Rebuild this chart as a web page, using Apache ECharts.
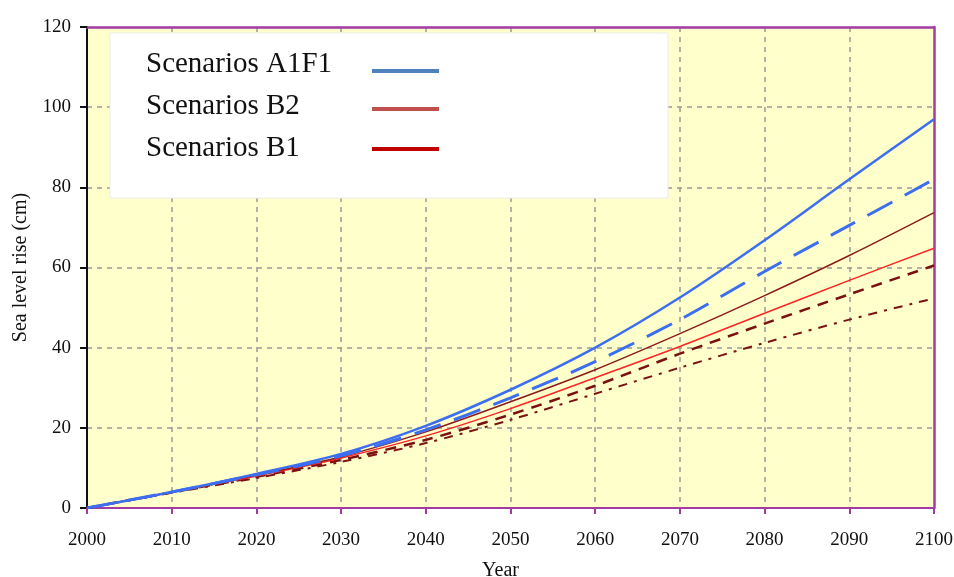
<!DOCTYPE html>
<html>
<head>
<meta charset="utf-8">
<script src="https://cdn.jsdelivr.net/npm/echarts@6/dist/echarts.min.js"></script>
<style>
  html, body { margin: 0; padding: 0; background: #fff; }
  #chart { width: 954px; height: 577px; }
</style>
</head>
<body>
<div id="chart"></div>
<script>
// data (sea level rise, cm)
const years = [2000, 2010, 2020, 2030, 2040, 2050, 2060, 2070, 2080, 2090, 2100];
const a1f1High = [0, 4, 8.5, 13.5, 20.5, 29.5, 40, 52.5, 66.8, 82, 97];
const a1f1Low = [0, 4, 8.3, 13, 19.5, 27.5, 36.5, 47, 59, 70.5, 82];
const b2High = [0, 4, 8.2, 12.8, 19, 26.5, 34.5, 43.5, 53, 63, 73.7];
const b2Low = [0, 4, 8, 12.5, 18, 24.8, 32.5, 40.3, 48.6, 56.8, 64.8];
const b1High = [0, 3.9, 7.8, 12, 17, 23.3, 30.5, 38.5, 46, 53.3, 60.5];
const b1Low = [0, 3.8, 7.5, 11.5, 16.2, 22, 28.5, 35, 41.2, 47, 52.3];
const legendNames = ['Scenarios A1F1', 'Scenarios B2', 'Scenarios B1'];
const legendColors = ['#4f81bd', '#c0504d', '#c00000'];

const serif = '"Liberation Serif", "Times New Roman", serif';
const purple = '#a23ca2';
const pair = arr => years.map((y, i) => [y, arr[i]]);

const chart = echarts.init(document.getElementById('chart'));

// line series helper
const line = (data, color, width, type, z) => ({
    type: 'line',
    data: pair(data),
    smooth: 0.3,
    symbol: 'none',
    z: z,
    lineStyle: { color: color, width: width, type: type }
});

// legend drawn as a white box with text and sample lines
const legendGraphic = [
    {
        type: 'rect',
        shape: { x: 110, y: 33, width: 558, height: 165 },
        style: { fill: '#ffffff', stroke: '#ececec', lineWidth: 1 },
        z: 100
    }
];
const textY = [64, 106, 148];
const lineY = [71, 109, 149];
legendNames.forEach((name, i) => {
    legendGraphic.push({
        type: 'text',
        x: 146, y: textY[i],
        style: { text: name, font: '29px ' + serif, fill: '#111', verticalAlign: 'middle' },
        z: 101
    });
    legendGraphic.push({
        type: 'line',
        shape: { x1: 372, y1: lineY[i], x2: 439, y2: lineY[i] },
        style: { stroke: legendColors[i], lineWidth: 4 },
        z: 101
    });
});

// dashed grid, skipping the lines that sit on the frame
const splitStyle = {
    show: true,
    showMinLine: false,
    showMaxLine: false,
    lineStyle: { color: '#999', type: [5, 5], width: 1.5 }
};

const option = {
    animation: false,
    backgroundColor: '#ffffff',
    grid: {
        left: 87, right: 20, top: 27, bottom: 69,
        outerBoundsMode: 'none',
        containLabel: false,
        show: true,
        backgroundColor: '#ffffcc',
        borderWidth: 0
    },
    xAxis: [
        {
            type: 'value',
            min: 2000, max: 2100, interval: 10,
            name: 'Year',
            nameLocation: 'middle',
            nameGap: 53,
            nameTextStyle: { fontFamily: serif, fontSize: 20, color: '#111', padding: [0, 20, 0, 0] },
            axisLine: { onZero: false, lineStyle: { color: purple, width: 2 } },
            axisTick: { show: true, length: 6, lineStyle: { color: purple, width: 2 } },
            axisLabel: {
                formatter: v => String(v),
                fontFamily: serif, fontSize: 19, color: '#111', margin: 23
            },
            splitLine: splitStyle
        },
        {
            // top border
            type: 'value', position: 'top',
            min: 2000, max: 2100, interval: 10,
            axisLine: { show: true, onZero: false, lineStyle: { color: purple, width: 2.5 } },
            axisTick: { show: false }, axisLabel: { show: false }, splitLine: { show: false }
        }
    ],
    yAxis: [
        {
            type: 'value',
            min: 0, max: 120, interval: 20,
            name: 'Sea level rise (cm)',
            nameLocation: 'middle',
            nameGap: 56,
            nameRotate: 90,
            nameTextStyle: { fontFamily: serif, fontSize: 20, color: '#111' },
            axisLine: { show: true, onZero: false, lineStyle: { color: '#111', width: 2 } },
            axisTick: { show: true, length: 7, lineStyle: { color: '#111', width: 2 } },
            axisLabel: { fontFamily: serif, fontSize: 19, color: '#111', margin: 16 },
            splitLine: splitStyle
        },
        {
            // right border
            type: 'value', position: 'right',
            min: 0, max: 120, interval: 20,
            axisLine: { show: true, onZero: false, lineStyle: { color: purple, width: 2.5 } },
            axisTick: { show: false }, axisLabel: { show: false }, splitLine: { show: false }
        }
    ],
    series: [
        line(b1Low, '#7a1414', 2, [9, 7, 3, 7], 2),
        line(b1High, '#7a1010', 2.5, [11, 8], 3),
        line(b2Low, '#ff2424', 1.5, 'solid', 4),
        line(b2High, '#8b1c1c', 1.5, 'solid', 5),
        line(a1f1Low, '#3d6ef0', 3, [28, 14], 6),
        line(a1f1High, '#3d6ef0', 2.5, 'solid', 7)
    ],
    graphic: legendGraphic
};

chart.setOption(option);
window.addEventListener('resize', () => chart.resize());
</script>
</body>
</html>
